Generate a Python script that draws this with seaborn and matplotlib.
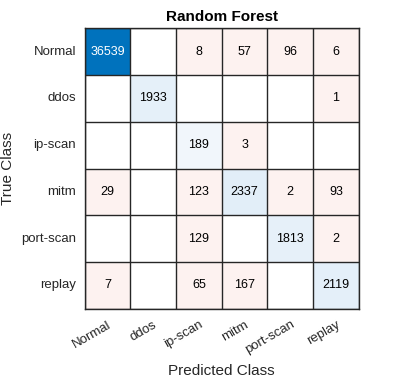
import numpy as np
import pandas as pd
import matplotlib
matplotlib.use("Agg")
import matplotlib.pyplot as plt
from matplotlib.colors import LinearSegmentedColormap, ListedColormap
import seaborn as sns

classes = ["Normal", "ddos", "ip-scan", "mitm", "port-scan", "replay"]
row_normal = [36539, 0, 8, 57, 96, 6]
row_ddos = [0, 1933, 0, 0, 0, 1]
row_ipscan = [0, 0, 189, 3, 0, 0]
row_mitm = [29, 0, 123, 2337, 2, 93]
row_portscan = [0, 0, 129, 0, 1813, 2]
row_replay = [7, 0, 65, 167, 0, 2119]
title = "Random Forest"

sns.set_style("white")
plt.rcParams['font.family'] = ['Liberation Sans', 'DejaVu Sans']

cm = np.array([row_normal, row_ddos, row_ipscan, row_mitm, row_portscan, row_replay], dtype=float)
df = pd.DataFrame(cm, index=classes, columns=classes)
n = len(classes)
eye = np.eye(n, dtype=bool)
zero = cm == 0

blue_cmap = LinearSegmentedColormap.from_list(
    "mblue", [(0.0, "#ffffff"), (0.003, "#f1f6fb"), (0.07, "#e0edf8"), (1.0, "#0072BD")])
pink_cmap = ListedColormap(["#fdf2f0"])

fig = plt.figure(figsize=(3.97, 3.78), dpi=100)
ax = fig.add_axes([0.213, 0.183, 0.691, 0.742])

annot = np.where(zero, "", cm.astype(int).astype(str))

sns.heatmap(df, mask=~eye | zero, cmap=blue_cmap, vmin=0, vmax=cm.max(), cbar=False,
            annot=annot, fmt="", ax=ax,
            annot_kws={"fontsize": 9, "color": "#000000"})
sns.heatmap(df, mask=eye | zero, cmap=pink_cmap, cbar=False,
            annot=annot, fmt="", ax=ax,
            annot_kws={"fontsize": 9, "color": "#000000"})

vmax = cm.max()
for t in ax.texts:
    x, y = t.get_position()
    i, j = int(y), int(x)
    if i == j and cm[i, j] / vmax > 0.5:
        t.set_color("white")

ax.set_xticks(np.arange(n + 1), minor=True)
ax.set_yticks(np.arange(n + 1), minor=True)
ax.grid(which="minor", color="#262626", linewidth=1.0)
ax.set_axisbelow(False)
ax.tick_params(which="both", length=0)
for s in ax.spines.values():
    s.set_visible(True)
    s.set_color("#262626")
    s.set_linewidth(1.0)

ax.set_xticklabels(classes, rotation=30, ha="right", rotation_mode="anchor", fontsize=9.5, color="#262626")
ax.set_yticklabels(classes, rotation=0, fontsize=9.5, color="#262626")
ax.tick_params(axis="x", pad=7)
ax.tick_params(axis="y", pad=6)
ax.set_xlabel("Predicted Class", fontsize=11, color="#262626")
ax.set_ylabel("True Class", fontsize=11, color="#262626")
ax.xaxis.set_label_coords(0.5, -0.195)
ax.yaxis.set_label_coords(-0.252, 0.5)
ax.set_title(title, fontsize=11, fontweight="bold", color="#000000", pad=5)

fig.savefig("out.png", dpi=100)
